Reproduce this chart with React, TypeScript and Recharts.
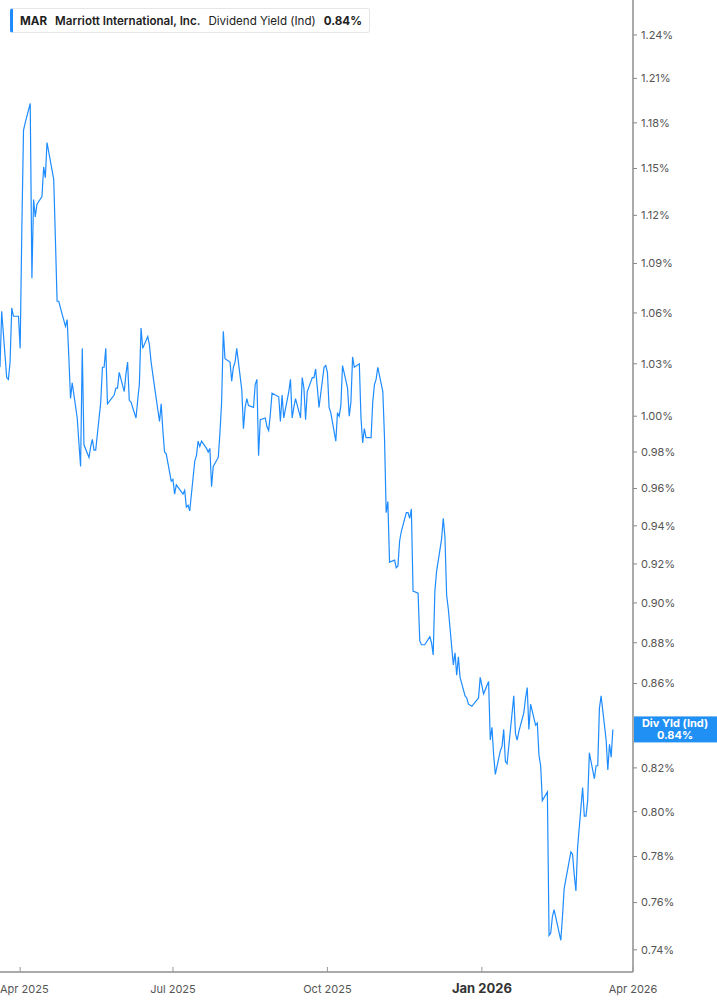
import React from "react";
import {
  LineChart,
  Line,
  XAxis,
  YAxis,
  ReferenceLine,
} from "recharts";

// trading sessions: weekdays between these dates, minus NYSE holidays
const firstSession = "2025-03-20";
const lastSession = "2026-03-20";
const marketHolidays = [
  "2025-04-18",
  "2025-05-26",
  "2025-06-19",
  "2025-07-04",
  "2025-09-01",
  "2025-11-27",
  "2025-12-25",
  "2026-01-01",
  "2026-01-19",
  "2026-02-16",
];

// MAR dividend yield (%), one value per session
const divYield = [
  1.028, 1.061, 1.022, 1.021, 1.031, 1.063, 1.058, 1.058, 1.039, 1.111,
  1.175, 1.18, 1.193, 1.081, 1.13, 1.119, 1.127, 1.132, 1.151, 1.144,
  1.167, 1.143, 1.105, 1.067, 1.067, 1.063, 1.052, 1.056, 1.034, 1.01,
  1.019, 0.999, 0.985, 0.972, 1.039, 0.984, 0.977, 0.983, 0.987, 0.981,
  0.981, 1.008, 1.028, 1.028, 1.039, 1.007, 1.012, 1.016, 1.016, 1.025,
  1.014, 1.024, 1.031, 1.009, 1.008, 0.999, 1.009, 1.018, 1.051, 1.039,
  1.046, 1.041, 1.031, 1.017, 0.997, 1.007, 0.992, 0.98, 0.979, 0.964,
  0.965, 0.957, 0.962, 0.957, 0.959, 0.95, 0.951, 0.948, 0.975, 0.978,
  0.986, 0.983, 0.986, 0.982, 0.98, 0.982, 0.961, 0.972, 0.977, 0.991,
  1.008, 1.049, 1.033, 1.031, 1.02, 1.028, 1.031, 1.039, 1.015, 0.993,
  1.005, 1.01, 1.006, 1.005, 1.018, 1.021, 0.978, 0.998, 0.999, 0.994,
  0.992, 1.001, 1.013, 1.011, 0.997, 1.012, 0.999, 1.014, 1.021, 0.999,
  1.005, 1.01, 0.999, 1.022, 1.016, 0.998, 1.014, 1.022, 1.022, 1.027,
  1.016, 1.005, 1.028, 1.029, 1.025, 1.005, 1.002, 0.986, 1.002, 1.0,
  1.006, 1.029, 1.016, 1.0, 1.008, 1.034, 1.028, 1.03, 0.999, 0.985,
  0.993, 0.988, 0.988, 1.008, 1.018, 1.021, 1.028, 1.014, 0.988, 0.947,
  0.953, 0.921, 0.922, 0.918, 0.919, 0.932, 0.937, 0.947, 0.947, 0.944,
  0.949, 0.906, 0.905, 0.881, 0.879, 0.879, 0.883, 0.88, 0.874, 0.906,
  0.916, 0.933, 0.944, 0.934, 0.904, 0.897, 0.869, 0.875, 0.864, 0.873,
  0.863, 0.854, 0.853, 0.85, 0.849, 0.852, 0.853, 0.863, 0.855, 0.861,
  0.833, 0.839, 0.826, 0.817, 0.828, 0.83, 0.838, 0.823, 0.822, 0.854,
  0.836, 0.833, 0.837, 0.846, 0.853, 0.858, 0.838, 0.85, 0.84, 0.841,
  0.826, 0.821, 0.805, 0.809, 0.746, 0.747, 0.754, 0.757, 0.744, 0.754,
  0.766, 0.77, 0.782, 0.781, 0.772, 0.765, 0.784, 0.811, 0.798, 0.798,
  0.805, 0.827, 0.815, 0.821, 0.821, 0.848, 0.854, 0.833, 0.819, 0.831,
  0.825, 0.838,
];

const xTickDates = ["2025-04-01", "2025-07-01", "2025-10-01", "2026-01-01", "2026-04-01"];
const xTickLabels = ["Apr 2025", "Jul 2025", "Oct 2025", "Jan 2026", "Apr 2026"];
const yTicks = [
  1.24, 1.21, 1.18, 1.15, 1.12, 1.09, 1.06, 1.03, 1.0, 0.98, 0.96, 0.94, 0.92,
  0.9, 0.88, 0.86, 0.82, 0.8, 0.78, 0.76, 0.74,
];

const ticker = "MAR";
const company = "Marriott International, Inc.";
const metric = "Dividend Yield (Ind)";
const badgeTitle = "Div Yld (Ind)";

const DAY = 86400000;
const toTime = (s: string) => Date.parse(s + "T00:00:00Z");

const sessions: number[] = [];
for (let t = toTime(firstSession); t <= toTime(lastSession); t += DAY) {
  const wd = new Date(t).getUTCDay();
  const iso = new Date(t).toISOString().slice(0, 10);
  if (wd === 0 || wd === 6 || marketHolidays.includes(iso)) continue;
  sessions.push(t);
}

const data = sessions.map((t, i) => ({ t, v: divYield[i] }));
const lastValue = divYield[divYield.length - 1];
const xTicks = xTickDates.map(toTime);

const BLUE = "#1e8cff";

const XTick = (props: any) => {
  const { x, y, payload } = props;
  const idx = xTicks.indexOf(payload.value);
  const label = xTickLabels[idx] ?? "";
  const isYear = label.startsWith("Jan");
  // keep the first label inside the left edge
  const atEdge = x < 24;
  return (
    <g>
      <line x1={x} x2={x} y1={y - 5} y2={y} stroke="#999" strokeWidth={1} />
      <text
        x={atEdge ? 0 : x}
        y={y + 21}
        textAnchor={atEdge ? "start" : "middle"}
        fontSize={isYear ? 13 : 11}
        fontWeight={isYear ? 700 : 400}
        fill={isYear ? "#333" : "#555"}
      >
        {label}
      </text>
    </g>
  );
};

const Badge = (props: any) => {
  const vb = props.viewBox || {};
  const left = vb.x + vb.width - 1;
  const cy = vb.y;
  return (
    <g>
      <rect x={left} y={cy - 13} width={90} height={26} fill="#2190f5" />
      <text x={left + 43} y={cy - 2} textAnchor="middle" fontSize={11} fontWeight={700} fill="#fff">
        {badgeTitle}
      </text>
      <text x={left + 43} y={cy + 10} textAnchor="middle" fontSize={11} fontWeight={700} fill="#fff">
        {lastValue.toFixed(2)}%
      </text>
    </g>
  );
};

export default function App() {
  return (
    <div style={{ position: "relative", width: 717, height: 1005, background: "#fff", fontFamily: "Inter, Roboto, sans-serif" }}>
      <style>{"body{margin:0}"}</style>
      <LineChart
        width={717}
        height={1005}
        data={data}
        margin={{ top: 0, right: 0, bottom: 0, left: 0 }}
        style={{ fontFamily: "Inter, Roboto, sans-serif" }}
      >
        <XAxis
          dataKey="t"
          type="number"
          scale="linear"
          domain={[toTime(firstSession), toTime("2026-04-01")]}
          ticks={xTicks}
          interval={0}
          height={33}
          tickSize={0}
          tickMargin={0}
          tickLine={false}
          axisLine={{ stroke: "#aaa", strokeWidth: 2 }}
          tick={<XTick />}
          allowDataOverflow
        />
        <YAxis
          orientation="right"
          scale="log"
          domain={[0.7308, 1.2647]}
          allowDataOverflow
          ticks={yTicks}
          interval={0}
          width={84}
          tickSize={4}
          tickMargin={4}
          tickLine={{ stroke: "#888" }}
          axisLine={{ stroke: "#aaa", strokeWidth: 2 }}
          tick={{ fontSize: 11, fill: "#555" }}
          tickFormatter={(v: number) => v.toFixed(2) + "%"}
        />
        <Line
          type="linear"
          dataKey="v"
          stroke={BLUE}
          strokeWidth={1.2}
          dot={false}
          activeDot={false}
          isAnimationActive={false}
        />
        <ReferenceLine y={lastValue} stroke="none" label={(p: any) => <Badge viewBox={p.viewBox} />} />
      </LineChart>
      <div
        style={{
          position: "absolute",
          left: 10,
          top: 8,
          height: 25,
          display: "flex",
          alignItems: "center",
          background: "#fff",
          border: "1px solid #e6e6e6",
          borderLeft: `3px solid ${BLUE}`,
          borderRadius: 3,
          paddingLeft: 7,
          paddingRight: 7,
          fontSize: 11.6,
          color: "#222",
          whiteSpace: "nowrap",
          boxSizing: "border-box",
        }}
      >
        <span style={{ fontWeight: 700 }}>{ticker}</span>
        <span style={{ fontWeight: 600, marginLeft: 8 }}>{company}</span>
        <span style={{ fontWeight: 400, marginLeft: 8 }}>{metric}</span>
        <span style={{ fontWeight: 700, marginLeft: 8 }}>{lastValue.toFixed(2)}%</span>
      </div>
    </div>
  );
}
